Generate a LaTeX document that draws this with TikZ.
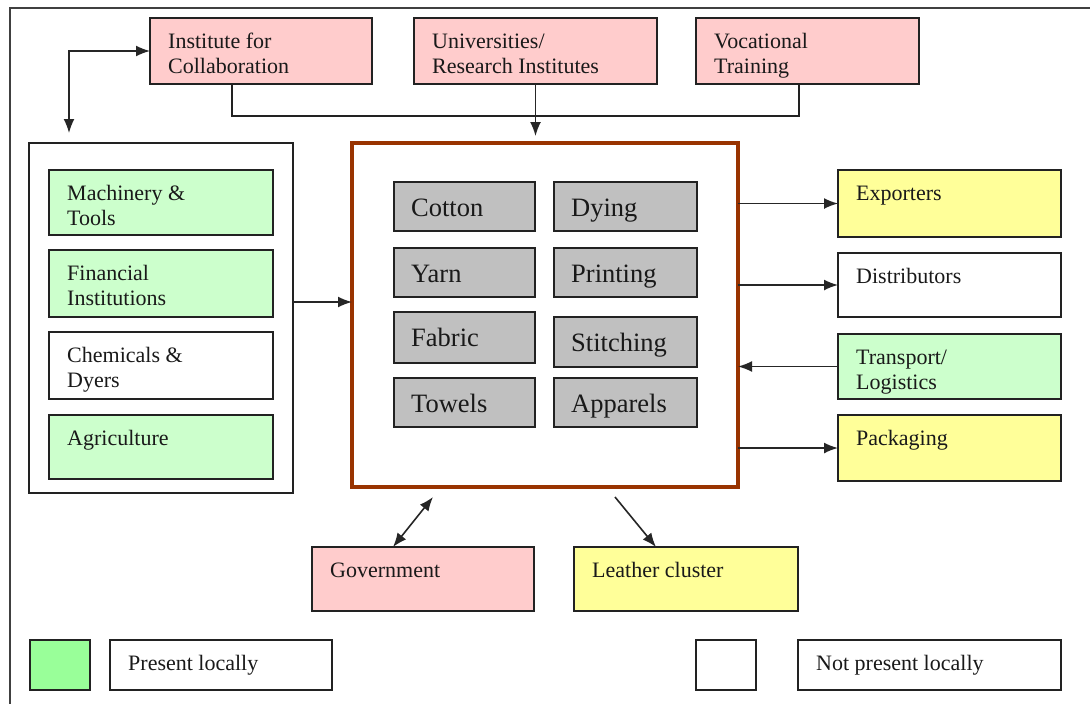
\documentclass[tikz,border=0pt]{standalone}
\usepackage{fontspec}
\setmainfont{Liberation Serif}
\usetikzlibrary{arrows.meta}
\definecolor{pinkc}{HTML}{FFCCCC}
\definecolor{greenc}{HTML}{CCFFCC}
\definecolor{yellowc}{HTML}{FFFF99}
\definecolor{grayc}{HTML}{C0C0C0}
\definecolor{legg}{HTML}{99FF99}
\definecolor{brownc}{HTML}{993300}
\definecolor{linec}{HTML}{222222}
\definecolor{arrc}{HTML}{262626}
\tikzset{
  boxs/.style={draw=linec, line width=2pt, inner sep=0pt, outer sep=0pt, anchor=north west},
  pinkb/.style={fill=pinkc}, greenb/.style={fill=greenc}, yellowb/.style={fill=yellowc},
  whiteb/.style={fill=white}, grayb/.style={fill=grayc, line width=1.8pt},
  lbl/.style={inner sep=0pt, anchor=base west, font=\fontsize{22}{25}\selectfont, text=black!90},
  glbl/.style={inner sep=0pt, anchor=base west, font=\fontsize{26.5}{30}\selectfont, text=black!90},
  arr/.style={draw=arrc, line width=1.6pt, -{Latex[length=14pt,width=11pt]}},
  darr/.style={draw=arrc, line width=1.6pt, {Latex[length=14pt,width=11pt]}-{Latex[length=14pt,width=11pt]}},
  conn/.style={draw=linec, line width=1.7pt},
}
\newcommand\bx[7]{\node[boxs,#6,minimum width=#4pt,minimum height=#5pt] (#1) at (#2,#3) {};
  \node[lbl] (#1t) at ([shift={(18pt,-30pt)}]#1.north west) {\begin{tabular}[t]{@{}l@{}}#7\end{tabular}};}
\newcommand\gx[6]{\node[boxs,grayb,minimum width=#4pt,minimum height=#5pt] (#1) at (#2,#3) {};
  \node[glbl] (#1t) at ([shift={(17pt,-34pt)}]#1.north west) {#6};}
\begin{document}
\begin{tikzpicture}[x=1pt,y=-1pt]
\useasboundingbox (0,0) rectangle (1090,704);
\fill[white] (0,0) rectangle (1090,704);
% outer frame
\coordinate (fbl) at (10,704);
\coordinate (ftl) at (10,8);
\coordinate (ftr) at (1090,8);
\draw[draw=black!75, line width=2.5pt] (fbl) -- (ftl) -- (ftr);
% top boxes
\bx{inst}{150}{18}{222}{66}{pinkb}{Institute for\\Collaboration}
\bx{uni}{414}{18}{243}{66}{pinkb}{Universities/\\Research Institutes}
\bx{voc}{696}{18}{223}{66}{pinkb}{Vocational\\Training}
% main box
\node[boxs, draw=brownc, line width=3.2pt, fill=white, minimum width=386pt, minimum height=344pt] (main) at (352,143) {};
\gx{cot}{394}{182}{141}{49}{Cotton}
\gx{dye}{554}{182}{143}{49}{Dying}
\gx{yarn}{394}{248}{141}{49}{Yarn}
\gx{prn}{554}{248}{143}{49}{Printing}
\gx{fab}{394}{312}{141}{51}{Fabric}
\gx{sti}{554}{317}{143}{50}{Stitching}
\gx{tow}{394}{378}{141}{49}{Towels}
\gx{app}{554}{378}{143}{49}{Apparels}
% left group
\node[boxs, whiteb, minimum width=264pt, minimum height=350pt] (grp) at (29,143) {};
\bx{mac}{49}{170}{224}{65}{greenb}{Machinery \&\\Tools}
\bx{fin}{49}{250}{224}{67}{greenb}{Financial\\Institutions}
\bx{che}{49}{332}{224}{67}{whiteb}{Chemicals \&\\Dyers}
\bx{agr}{49}{415}{224}{64}{greenb}{Agriculture}
% right boxes
\bx{exp}{838}{170}{223}{67}{yellowb}{Exporters}
\bx{dis}{838}{253}{223}{64}{whiteb}{Distributors}
\bx{tra}{838}{334}{223}{65}{greenb}{Transport/\\Logistics}
\bx{pac}{838}{415}{223}{66}{yellowb}{Packaging}
% bottom boxes
\bx{gov}{312}{547}{222}{64}{pinkb}{Government}
\bx{lea}{574}{547}{224}{64}{yellowb}{Leather cluster}
% legend
\node[boxs, fill=legg, minimum width=60pt, minimum height=50pt] (lg1) at (30,640) {};
\bx{lt1}{110}{640}{222}{50}{whiteb}{Present locally}
\node[boxs, whiteb, minimum width=60pt, minimum height=50pt] (lg2) at (696,640) {};
\bx{lt2}{798}{640}{263}{50}{whiteb}{Not present locally}
% top connectors
\coordinate (j1) at (232,116);
\coordinate (j2) at (799,116);
\draw[conn] (j1 |- inst.south) -- (j1) -- (j2) -- (j2 |- voc.south);
\draw[arr, shorten >=7pt] (uni.south) -- (uni.south |- main.north);
\coordinate (c1) at (69,52);
\draw[darr, shorten <=10pt] (c1 |- grp.north) -- (c1 |- inst.west) -- (inst.west);
% left to main
\draw[arr] ([yshift=16pt]grp.east) -- ([yshift=16pt]grp.east -| main.west);
% main to right
\draw[arr] (main.east |- exp.west) -- (exp.west);
\draw[arr] (main.east |- dis.west) -- (dis.west);
\draw[arr] (tra.west) -- (tra.west -| main.east);
\draw[arr] (main.east |- pac.west) -- (pac.west);
% bottom
\coordinate (g1) at (433,497);
\coordinate (l1) at (615,497);
\draw[darr] (g1) -- ([xshift=81pt]gov.north west);
\draw[arr] (l1) -- ([xshift=82pt]lea.north west);
\end{tikzpicture}
\end{document}
